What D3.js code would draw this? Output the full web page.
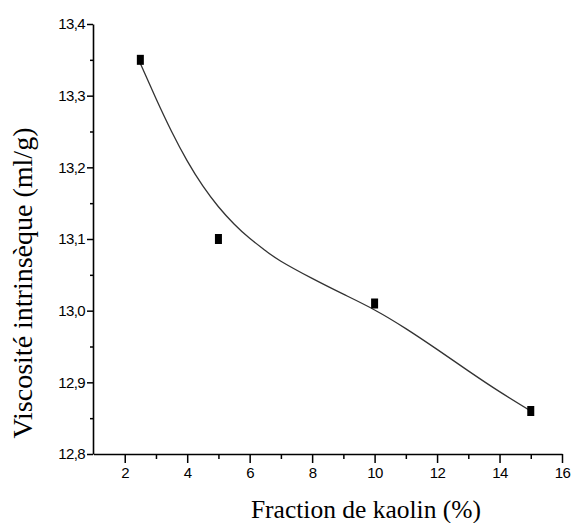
<!DOCTYPE html>
<html>
<head>
<meta charset="utf-8">
<script src="https://cdn.jsdelivr.net/npm/d3@7"></script>
<style>
  body { margin: 0; background: #fff; }
  svg { display: block; }
</style>
</head>
<body>
<svg id="chart"></svg>
<script>
// measured points
const kaolin = [2.5, 5, 10, 15];
const viscosity = [13.35, 13.10, 13.01, 12.86];

// fitted curve
const fitX = [2.5, 3, 3.5, 4, 4.5, 5, 5.5, 6, 6.5, 7, 8, 9, 10, 11, 12, 13, 14, 15];
const fitY = [13.345, 13.296, 13.250, 13.209, 13.174, 13.145, 13.121, 13.101, 13.084,
              13.069, 13.045, 13.023, 13.001, 12.975, 12.946, 12.916, 12.887, 12.860];

const xTicks = [2, 4, 6, 8, 10, 12, 14, 16];
const xMinor = [3, 5, 7, 9, 11, 13, 15];
const yTicks = [12.8, 12.9, 13.0, 13.1, 13.2, 13.3, 13.4];
const yTickLabels = ["12,8", "12,9", "13,0", "13,1", "13,2", "13,3", "13,4"];
const yMinor = [12.85, 12.95, 13.05, 13.15, 13.25, 13.35];

const width = 571, height = 523;
const margin = {top: 24, right: 9, bottom: 69, left: 93};

const svg = d3.select("#chart")
  .attr("width", width)
  .attr("height", height)
  .attr("viewBox", [0, 0, width, height]);

const x = d3.scaleLinear()
  .domain([1, 16])
  .range([margin.left + 0.5, width - margin.right]);

const y = d3.scaleLinear()
  .domain([12.8, 13.4])
  .range([height - margin.bottom, margin.top]);

const tickFont = g => g
  .attr("font-family", "'Liberation Sans', Arial, sans-serif")
  .attr("font-size", 15)
  .attr("letter-spacing", "-0.6px")
  .attr("fill", "#000");

// x axis
svg.append("g")
  .attr("transform", `translate(0,${height - margin.bottom})`)
  .call(d3.axisBottom(x).tickValues(xMinor).tickSize(5).tickFormat(""))
  .call(g => g.select(".domain").remove())
  .call(g => g.selectAll(".tick line").attr("stroke-width", 1.5));

svg.append("g")
  .attr("transform", `translate(0,${height - margin.bottom})`)
  .call(d3.axisBottom(x).tickValues(xTicks).tickSize(9).tickSizeOuter(0).tickPadding(4))
  .call(g => g.select(".domain").attr("stroke-width", 1.6))
  .call(g => g.selectAll(".tick line").attr("stroke-width", 1.5))
  .call(g => g.selectAll(".tick text").call(tickFont));

// y axis
svg.append("g")
  .attr("transform", `translate(${margin.left},0)`)
  .call(d3.axisLeft(y).tickValues(yMinor).tickSize(3).tickFormat(""))
  .call(g => g.select(".domain").remove())
  .call(g => g.selectAll(".tick line").attr("stroke-width", 1.5));

svg.append("g")
  .attr("transform", `translate(${margin.left},0)`)
  .call(d3.axisLeft(y).tickValues(yTicks).tickSize(6).tickSizeOuter(0).tickPadding(2)
    .tickFormat((d, i) => yTickLabels[i]))
  .call(g => g.select(".domain").attr("stroke-width", 1.6))
  .call(g => g.selectAll(".tick line").attr("stroke-width", 1.5))
  .call(g => g.selectAll(".tick text").call(tickFont));

// fitted curve
const line = d3.line()
  .x(d => x(d[0]))
  .y(d => y(d[1]))
  .curve(d3.curveNatural);

svg.append("path")
  .datum(fitX.map((v, i) => [v, fitY[i]]))
  .attr("fill", "none")
  .attr("stroke", "#333")
  .attr("stroke-width", 1.3)
  .attr("d", line);

// markers
svg.append("g")
  .attr("fill", "#000")
  .selectAll("rect")
  .data(kaolin)
  .join("rect")
    .attr("x", d => x(d) - 3.5)
    .attr("y", (d, i) => y(viscosity[i]) - 5)
    .attr("width", 7)
    .attr("height", 10);

// axis titles
svg.append("text")
  .attr("x", 366)
  .attr("y", 518)
  .attr("text-anchor", "middle")
  .attr("font-family", "'Liberation Serif', 'Times New Roman', serif")
  .attr("font-size", 25.5)
  .text("Fraction de kaolin (%)");

svg.append("text")
  .attr("transform", "translate(32,283) rotate(-90)")
  .attr("text-anchor", "middle")
  .attr("font-family", "'Liberation Serif', 'Times New Roman', serif")
  .attr("font-size", 28)
  .text("Viscosité intrinsèque (ml/g)");
</script>
</body>
</html>
